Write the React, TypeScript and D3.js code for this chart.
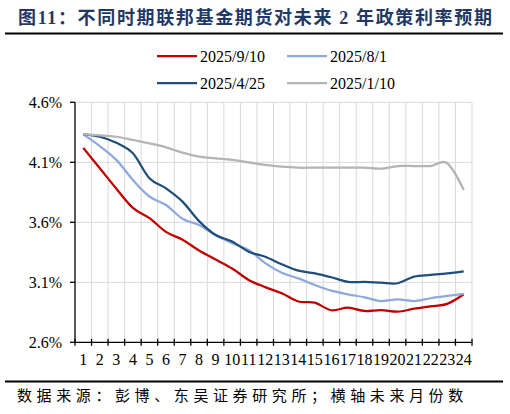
import React from "react";
import * as d3 from "d3";

const months = Array.from({ length: 24 }, (_, i) => String(i + 1));
const yTicks = [2.6, 3.1, 3.6, 4.1, 4.6];

const s0910 = [4.22, 4.05, 3.88, 3.72, 3.635, 3.52, 3.455, 3.365, 3.29, 3.215, 3.12, 3.06, 3.008, 2.94, 2.93, 2.867, 2.889, 2.861, 2.869, 2.855, 2.88, 2.9, 2.92, 3.0];
const s0801 = [4.333, 4.235, 4.12, 3.953, 3.815, 3.744, 3.63, 3.578, 3.494, 3.425, 3.369, 3.26, 3.18, 3.133, 3.078, 3.03, 3.0, 2.975, 2.944, 2.958, 2.944, 2.967, 2.986, 3.003];
const s0425 = [4.333, 4.313, 4.263, 4.175, 3.967, 3.883, 3.772, 3.61, 3.494, 3.44, 3.355, 3.313, 3.25, 3.197, 3.175, 3.142, 3.103, 3.103, 3.097, 3.092, 3.147, 3.161, 3.175, 3.192];
const s0110 = [4.333, 4.325, 4.313, 4.286, 4.258, 4.225, 4.18, 4.147, 4.133, 4.12, 4.1, 4.078, 4.063, 4.055, 4.055, 4.055, 4.055, 4.055, 4.047, 4.069, 4.069, 4.069, 4.092, 3.87];

const seriesNames = ["2025/9/10", "2025/8/1", "2025/4/25", "2025/1/10"];
const seriesValues = [s0910, s0801, s0425, s0110];
const colors = ["#C00000", "#8EA9DB", "#1F4E79", "#B4B4B4"];

const W = 510;
const H = 414;
const serif = "'Liberation Serif', 'Times New Roman', serif";
const cjk = "'Noto Sans CJK SC', sans-serif";

export default function App() {
  const x = d3.scaleBand<string>().domain(months).range([75, 472]).padding(0);
  const y = d3.scaleLinear().domain([2.6, 4.6]).range([342.3, 102.3]);
  const cx = (m: string) => (x(m) as number) + x.bandwidth() / 2;
  const line = d3
    .line<number>()
    .x((_, i) => cx(months[i]))
    .y((v) => y(v))
    .curve(d3.curveCardinal.tension(0));

  const boundaries = d3.range(months.length + 1).map((i) => 75 + i * x.bandwidth());

  const legendPos = [
    { lx: 157, ly: 56 },
    { lx: 287, ly: 56 },
    { lx: 157, ly: 83 },
    { lx: 287, ly: 83 },
  ];

  return (
    <svg
      width={W}
      height={H}
      style={{ position: "absolute", left: 0, top: 0, background: "#fff" }}
    >
      {/* Title */}
      <text
        x={18}
        y={24}
        fontFamily={`'Liberation Serif', ${cjk}`}
        fontSize={18}
        fontWeight={700}
        letterSpacing={1.65}
        fill="#1F3864"
      >
        图11：不同时期联邦基金期货对未来 2 年政策利率预期
      </text>
      <line x1={5} x2={503} y1={33.5} y2={33.5} stroke="#000" strokeWidth={2} />

      {/* Legend */}
      {seriesNames.map((n, i) => (
        <g key={n}>
          <line
            x1={legendPos[i].lx}
            x2={legendPos[i].lx + 40}
            y1={legendPos[i].ly}
            y2={legendPos[i].ly}
            stroke={colors[i]}
            strokeWidth={2.25}
          />
          <text
            x={legendPos[i].lx + 43}
            y={legendPos[i].ly}
            dy="0.35em"
            fontFamily={serif}
            fontSize={16}
            fill="#000"
          >
            {n}
          </text>
        </g>
      ))}

      {/* Grid */}
      {yTicks.slice(1).map((t) => (
        <line key={"gy" + t} x1={75} x2={472} y1={y(t)} y2={y(t)} stroke="#D9D9D9" strokeWidth={1} />
      ))}
      {boundaries.slice(1).map((b, i) => (
        <line key={"gx" + i} x1={b} x2={b} y1={y(4.6)} y2={y(2.6)} stroke="#D9D9D9" strokeWidth={1} />
      ))}

      {/* Axes */}
      <line x1={75} x2={75} y1={y(4.6)} y2={y(2.6)} stroke="#000" strokeWidth={1.3} />
      <line x1={75} x2={472} y1={y(2.6)} y2={y(2.6)} stroke="#000" strokeWidth={1.3} />
      {yTicks.map((t) => (
        <g key={"yt" + t}>
          <line x1={70} x2={75} y1={y(t)} y2={y(t)} stroke="#000" strokeWidth={1.3} />
          <text x={62} y={y(t)} dy="0.35em" textAnchor="end" fontFamily={serif} fontSize={16} fill="#000">
            {t.toFixed(1) + "%"}
          </text>
        </g>
      ))}
      {boundaries.map((b, i) => (
        <line key={"xt" + i} x1={b} x2={b} y1={y(2.6) - 3.5} y2={y(2.6) + 3.5} stroke="#000" strokeWidth={1.3} />
      ))}
      {months.map((m) => (
        <text key={"xl" + m} x={cx(m)} y={365} textAnchor="middle" fontFamily={serif} fontSize={16} fill="#000">
          {m}
        </text>
      ))}

      {/* Series */}
      {seriesValues.map((vals, i) => (
        <path key={"s" + i} d={line(vals) || ""} fill="none" stroke={colors[i]} strokeWidth={2.25} />
      ))}

      {/* Footer */}
      <line x1={5} x2={503} y1={381.5} y2={381.5} stroke="#000" strokeWidth={2} />
      <text x={17} y={401} fontFamily={cjk} fontSize={15} letterSpacing={4.6} fill="#000">
        数据来源：彭博、东吴证券研究所；横轴未来月份数
      </text>
    </svg>
  );
}
